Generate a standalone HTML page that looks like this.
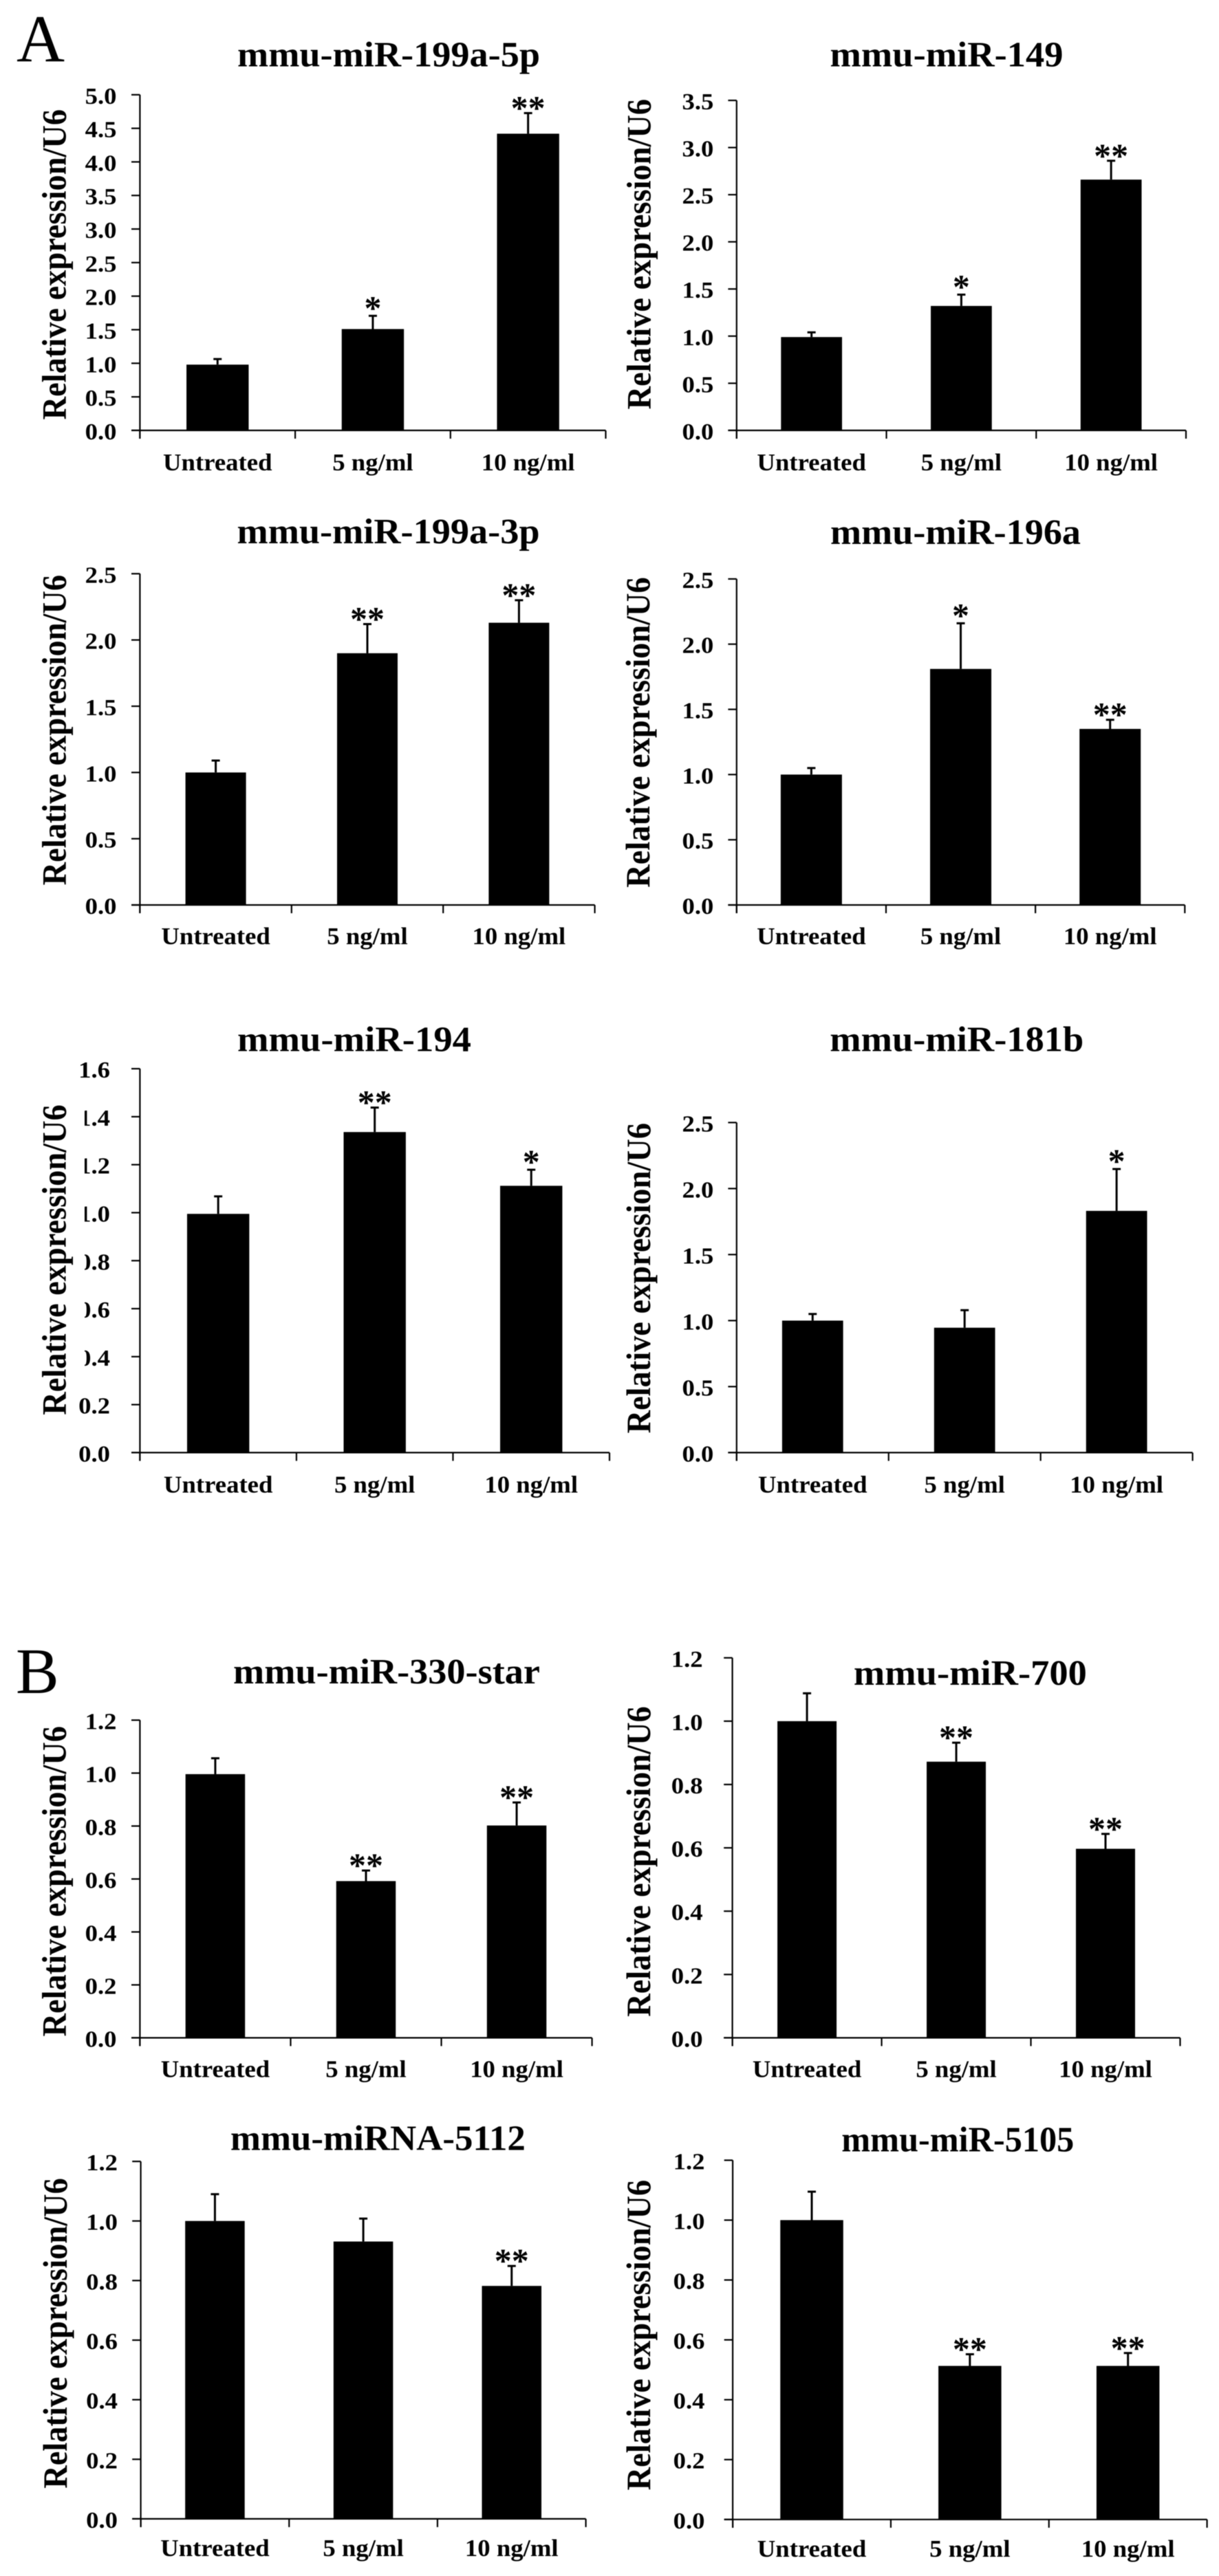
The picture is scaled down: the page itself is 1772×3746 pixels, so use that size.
<!DOCTYPE html>
<html lang="en">
<head>
<meta charset="utf-8">
<title>Relative miRNA expression panels</title>
<style>
  html, body { margin: 0; padding: 0; background: #fff; }
  #figure { display: block; width: 1772px; height: 3746px; filter: blur(0.5px); }
  text { font-family: "Liberation Serif", "Times New Roman", serif; font-weight: 700; fill: #000; }
  .panel-letter { font-weight: 400; }
</style>
</head>
<body>
<svg id="figure" xmlns="http://www.w3.org/2000/svg" width="1772" height="3746" viewBox="0 0 1772 3746">
  <rect x="0" y="0" width="1772" height="3746" fill="#fff"></rect>
  <text class="panel-letter" x="24" y="89.5" font-size="97">A</text>
  <text class="panel-letter" x="23" y="2462" font-size="94">B</text>
</svg>
<script>
const categories = ['Untreated', '5 ng/ml', '10 ng/ml'];
const yAxisTitle = 'Relative expression/U6';

const ticksTo5 = ['0.0', '0.5', '1.0', '1.5', '2.0', '2.5', '3.0', '3.5', '4.0', '4.5', '5.0'];
const ticksTo3p5 = ['0.0', '0.5', '1.0', '1.5', '2.0', '2.5', '3.0', '3.5'];
const ticksTo2p5 = ['0.0', '0.5', '1.0', '1.5', '2.0', '2.5'];
const ticksTo1p6 = ['0.0', '0.2', '0.4', '0.6', '0.8', '1.0', '1.2', '1.4', '1.6'];
const ticksTo1p2 = ['0.0', '0.2', '0.4', '0.6', '0.8', '1.0', '1.2'];

const values199a5p = [0.98, 1.51, 4.42];
const errors199a5p = [0.083, 0.197, 0.307];
const stars199a5p = ['', '*', '**'];

const values149 = [0.99, 1.32, 2.66];
const errors149 = [0.05, 0.12, 0.2];
const stars149 = ['', '*', '**'];

const values199a3p = [1.0, 1.9, 2.13];
const errors199a3p = [0.09, 0.22, 0.17];
const stars199a3p = ['', '**', '**'];

const values196a = [1.0, 1.81, 1.35];
const errors196a = [0.05, 0.35, 0.07];
const stars196a = ['', '*', '**'];

const values194 = [0.995, 1.336, 1.112];
const errors194 = [0.073, 0.102, 0.067];
const stars194 = ['', '**', '*'];

const values181b = [1.0, 0.946, 1.831];
const errors181b = [0.05, 0.133, 0.317];
const stars181b = ['', '', '*'];

const values330star = [0.996, 0.592, 0.802];
const errors330star = [0.06, 0.04, 0.087];
const stars330star = ['', '**', '**'];

const values700 = [1.0, 0.872, 0.597];
const errors700 = [0.088, 0.06, 0.047];
const stars700 = ['', '**', '**'];

const values5112 = [1.0, 0.931, 0.782];
const errors5112 = [0.09, 0.077, 0.067];
const stars5112 = ['', '', '**'];

const values5105 = [1.0, 0.513, 0.513];
const errors5105 = [0.095, 0.039, 0.043];
const stars5105 = ['', '**', '**'];

const panels = [
  { key: '199a-5p', title: 'mmu-miR-199a-5p', values: values199a5p, errors: errors199a5p, stars: stars199a5p, ticks: ticksTo5,
    left: 203.4, right: 880.5, base: 625.9, top: 137.8, barW: 90.4, titleX: 565, titleY: 96.5, titleW: 440, labelX: 95.5, labelY: 384.6, tickRight: 169.5, catGap: 58 },
  { key: '149', title: 'mmu-miR-149', values: values149, errors: errors149, stars: stars149, ticks: ticksTo3p5,
    left: 1070.8, right: 1724, base: 625.9, top: 146, barW: 88.7, titleX: 1376, titleY: 96.5, titleW: 339, labelX: 945.3, labelY: 369.6, tickRight: 1037.4, catGap: 58 },
  { key: '199a-3p', title: 'mmu-miR-199a-3p', values: values199a3p, errors: errors199a3p, stars: stars199a3p, ticks: ticksTo2p5,
    left: 203.4, right: 864.6, base: 1316, top: 834.3, barW: 88, titleX: 564.5, titleY: 790, titleW: 440, labelX: 95.5, labelY: 1061.6, tickRight: 169.5, catGap: 57 },
  { key: '196a', title: 'mmu-miR-196a', values: values196a, errors: errors196a, stars: stars196a, ticks: ticksTo2p5,
    left: 1070.8, right: 1722.3, base: 1316, top: 841.9, barW: 89, titleX: 1389, titleY: 791, titleW: 364, labelX: 944, labelY: 1065, tickRight: 1037.4, catGap: 57 },
  { key: '194', title: 'mmu-miR-194', values: values194, errors: errors194, stars: stars194, ticks: ticksTo1p6,
    left: 203.4, right: 886, base: 2112.4, top: 1554.1, barW: 90.4, titleX: 515, titleY: 1528.6, titleW: 340, labelX: 95.5, labelY: 1832, tickRight: 160, catGap: 58, maskTicks: true },
  { key: '181b', title: 'mmu-miR-181b', values: values181b, errors: errors181b, stars: stars181b, ticks: ticksTo2p5,
    left: 1070.8, right: 1733.6, base: 2112.4, top: 1632.4, barW: 88.7, titleX: 1390.8, titleY: 1528.6, titleW: 369, labelX: 945, labelY: 1858.7, tickRight: 1037.4, catGap: 58 },
  { key: '330-star', title: 'mmu-miR-330-star', values: values330star, errors: errors330star, stars: stars330star, ticks: ticksTo1p2,
    left: 203.4, right: 860.6, base: 2963.4, top: 2501.4, barW: 86.5, titleX: 562, titleY: 2448, titleW: 446, labelX: 95.5, labelY: 2735.8, tickRight: 169.5, catGap: 57 },
  { key: '700', title: 'mmu-miR-700', values: values700, errors: errors700, stars: stars700, ticks: ticksTo1p2,
    left: 1064.6, right: 1715.5, base: 2963.4, top: 2410.8, barW: 86, titleX: 1410.4, titleY: 2450, titleW: 339, labelX: 945, labelY: 2707, tickRight: 1021.6, catGap: 57 },
  { key: '5112', title: 'mmu-miRNA-5112', values: values5112, errors: errors5112, stars: stars5112, ticks: ticksTo1p2,
    left: 204.6, right: 851.6, base: 3662.9, top: 3143.1, barW: 86.5, titleX: 549.4, titleY: 3126.5, titleW: 429, labelX: 97, labelY: 3393, tickRight: 171, catGap: 54 },
  { key: '5105', title: 'mmu-miR-5105', values: values5105, errors: errors5105, stars: stars5105, ticks: ticksTo1p2,
    left: 1065.1, right: 1754.6, base: 3663.8, top: 3141.4, barW: 91.5, titleX: 1392.3, titleY: 3128.7, titleW: 338, labelX: 945, labelY: 3395.6, tickRight: 1024.5, catGap: 54 }
];

const SVG_NS = 'http://www.w3.org/2000/svg';
const figure = document.getElementById('figure');

function make(parent, tag, attrs, content) {
  const node = document.createElementNS(SVG_NS, tag);
  Object.keys(attrs).forEach(function (k) { node.setAttribute(k, attrs[k]); });
  if (content !== undefined) node.textContent = content;
  parent.appendChild(node);
  return node;
}

function drawPanel(p) {
  const g = make(figure, 'g', {});
  
  

  const yMax = parseFloat(p.ticks[p.ticks.length - 1]);
  const yScale = function (v) { return p.base - (v / yMax) * (p.base - p.top); };
  const band = (p.right - p.left) / categories.length;
  const xEdge = function (i) { return p.left + i * band; };
  const xCenter = function (i) { return p.left + (i + 0.5) * band; };
  const AXIS_W = 2.2;

  const title = make(g, 'text', { x: p.titleX, y: p.titleY, 'font-size': 52, 'text-anchor': 'middle', textLength: p.titleW, lengthAdjust: 'spacingAndGlyphs' }, p.title);
  
  

  p.values.forEach(function (v, i) {
    const cx = xCenter(i);
    const bar = make(g, 'rect', { x: cx - p.barW / 2, y: yScale(v), width: p.barW, height: p.base - yScale(v), fill: '#000' });
    
    

    const errTop = yScale(v + p.errors[i]);
    const stem = make(g, 'line', { x1: cx, x2: cx, y1: yScale(v), y2: errTop, stroke: '#000', 'stroke-width': 3 });
    
    

    const cap = make(g, 'line', { x1: cx - 6, x2: cx + 6, y1: errTop, y2: errTop, stroke: '#000', 'stroke-width': 3 });
    
    

    if (p.stars[i]) {
      const gap = p.stars[i] === '*' ? 19 : 15;
      const star = make(g, 'text', { x: cx, y: errTop - gap + 24, 'font-size': 50, 'text-anchor': 'middle' }, p.stars[i]);
      
      
    }

    const cat = make(g, 'text', { 'font-size': 35, 'text-anchor': 'middle', transform: 'translate(' + cx + ',' + (p.base + p.catGap) + ') scale(1.05,1)' }, categories[i]);
    
    
  });

  const yAxis = make(g, 'line', { x1: p.left, x2: p.left, y1: p.top, y2: p.base + 12, stroke: '#000', 'stroke-width': AXIS_W });
  
  

  const xAxis = make(g, 'line', { x1: p.left - 12.4, x2: p.right, y1: p.base, y2: p.base, stroke: '#000', 'stroke-width': AXIS_W });
  
  

  for (let i = 0; i <= categories.length; i++) {
    const xt = make(g, 'line', { x1: xEdge(i), x2: xEdge(i), y1: p.base, y2: p.base + 12, stroke: '#000', 'stroke-width': AXIS_W });
    
    
  }

  p.ticks.forEach(function (label) {
    const ty = yScale(parseFloat(label));
    const yt = make(g, 'line', { x1: p.left - 12.4, x2: p.left, y1: ty, y2: ty, stroke: '#000', 'stroke-width': AXIS_W });
    
    

    const tl = make(g, 'text', { 'font-size': 34, 'text-anchor': 'end', transform: 'translate(' + p.tickRight + ',' + (ty + 13) + ') scale(1.08,1)' }, label);
    
    
  });

  if (p.maskTicks) {
    const mask = make(g, 'rect', { x: 105, y: yScale(1.46), width: 18, height: yScale(0.32) - yScale(1.46), fill: '#fff' });
    
    
  }

  const yLabel = make(g, 'text', { 'font-size': 46.4, 'text-anchor': 'middle', transform: 'translate(' + p.labelX + ',' + p.labelY + ') scale(1.07,1) rotate(-90)' }, yAxisTitle);
  
  
}

panels.forEach(drawPanel);
</script>
</body>
</html>
